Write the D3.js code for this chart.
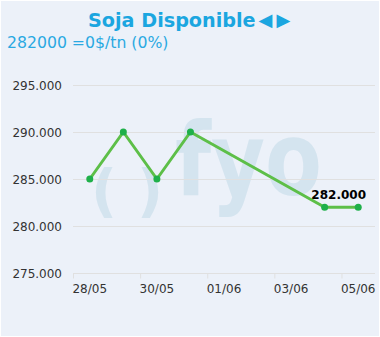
<!DOCTYPE html>
<html>
<head>
<meta charset="utf-8">
<script src="https://cdn.jsdelivr.net/npm/d3@7"></script>
<style>
html,body{margin:0;padding:0;background:#ffffff;}
svg{display:block;}
</style>
</head>
<body>
<svg id="chart" width="380" height="337"></svg>
<script>
const title = "Soja Disponible";
const arrows = "◄►";
const subtitle = "282000 =0$/tn (0%)";
const dates = ["2024-05-28","2024-05-29","2024-05-30","2024-05-31","2024-06-04","2024-06-05"];
const values = [285000,290000,285000,290000,282000,282000];
const yTicks = [275000,280000,285000,290000,295000];
const xTickLabels = ["2024-05-28","2024-05-30","2024-06-01","2024-06-03","2024-06-05"];
const lastLabel = "282.000";

const svg = d3.select("#chart");
const W = 380, H = 337;
svg.append("rect").attr("x",1).attr("y",1).attr("width",W-2).attr("height",H-2).attr("fill","#ecf1f9");

const parse = d3.timeParse("%Y-%m-%d");
const day = 864e5;
const xDomain = [new Date(+parse("2024-05-28") - day/2), new Date(+parse("2024-06-05") + day/2)];
const x = d3.scaleTime().domain(xDomain).range([73, 375]);
const y = d3.scaleLinear().domain([275000, 295000]).range([273, 85]);

const font = "DejaVu Sans, Verdana, sans-serif";

// watermark
const wm = svg.append("g").attr("fill","#d4e4ef").attr("font-family",font).attr("font-weight","bold");
wm.append("text").attr("x",91).attr("y",210).attr("font-size",57).text("(");
wm.append("text").attr("x",137).attr("y",210).attr("font-size",57).text(")");
wm.append("text").attr("x",175).attr("y",195).attr("font-size",102).attr("textLength",147).attr("lengthAdjust","spacingAndGlyphs").text("fyo");

// gridlines
svg.append("g").selectAll("line").data(yTicks).join("line")
  .attr("x1",73).attr("x2",375)
  .attr("y1",d=>Math.round(y(d))+0.5).attr("y2",d=>Math.round(y(d))+0.5)
  .attr("stroke","#e0e0e0").attr("stroke-width",1);

// y labels
svg.append("g").selectAll("text").data(yTicks).join("text")
  .attr("x",62).attr("y",d=>y(d)+4.5)
  .attr("text-anchor","end").attr("font-family",font).attr("font-size",12).attr("fill","#333333")
  .text(d=>d3.format(",")(d).replace(/,/g,"."));

// x axis
const xAxis = d3.axisBottom(x)
  .tickValues(xTickLabels.map(s=>new Date(+parse(s) - day/2)))
  .tickSize(5).tickFormat("");
const xg = svg.append("g").attr("transform","translate(0,273.5)").call(xAxis);
xg.select(".domain").attr("stroke","#e0e0e0").attr("d","M73,0H375");
xg.selectAll(".tick line").attr("stroke","#e0e0e0");
svg.append("g").selectAll("text").data(xTickLabels).join("text")
  .attr("x",d=>x(parse(d))).attr("y",293)
  .attr("text-anchor","middle").attr("font-family",font).attr("font-size",12).attr("fill","#333333")
  .text(d=>d3.timeFormat("%d/%m")(parse(d)));

// line
const pts = dates.map((d,i)=>({x:x(parse(d)), y:y(values[i])}));
svg.append("path").datum(pts)
  .attr("d", d3.line().x(d=>d.x).y(d=>d.y))
  .attr("fill","none").attr("stroke","#5dbf48").attr("stroke-width",3).attr("stroke-linejoin","round");
svg.append("g").selectAll("circle").data(pts).join("circle")
  .attr("cx",d=>d.x).attr("cy",d=>d.y).attr("r",3.5).attr("fill","#1fb04a");

// data label
const lp = pts[pts.length-1];
svg.append("text").attr("x",366).attr("y",lp.y-8)
  .attr("text-anchor","end").attr("font-family",font).attr("font-size",12).attr("font-weight","bold").attr("fill","#000")
  .text(lastLabel);

// title
const t = svg.append("text").attr("x",88).attr("y",27)
  .attr("font-family",font).attr("font-size",19.2).attr("font-weight","bold").attr("fill","#1ba6e0");
t.append("tspan").text(title);
t.append("tspan").attr("x","254 272").attr("dy",1).attr("font-family","Liberation Sans, Arial, sans-serif")
  .attr("font-size",23).attr("font-weight","normal").text(arrows);
svg.append("text").attr("x",7).attr("y",48)
  .attr("font-family",font).attr("font-size",15.7).attr("fill","#2aa9e2")
  .text(subtitle);
</script>
</body>
</html>
